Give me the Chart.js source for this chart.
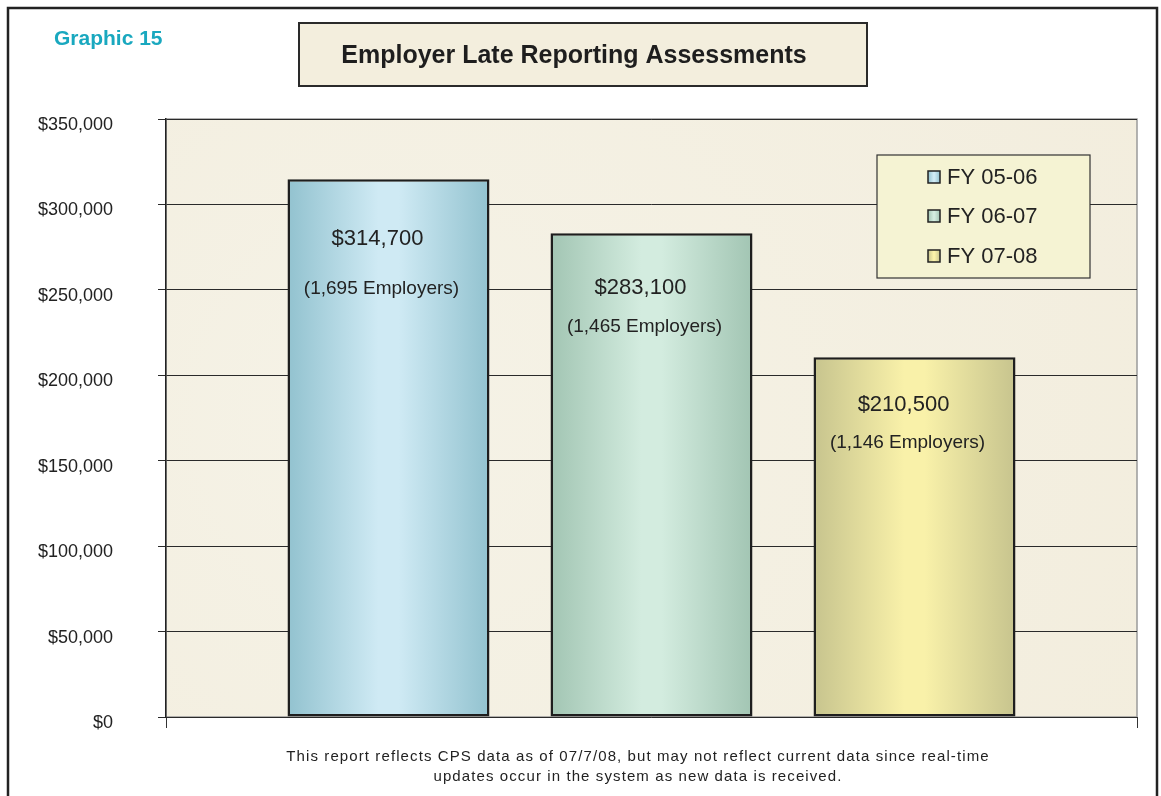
<!DOCTYPE html>
<html>
<head>
<meta charset="utf-8">
<script src="https://cdn.jsdelivr.net/npm/chart.js@4.4.0/dist/chart.umd.min.js"></script>
<style>
  html, body { margin: 0; padding: 0; background: #fff; }
  #wrap { width: 1161px; height: 796px; position: relative; }
</style>
</head>
<body>
<div id="wrap"><canvas id="lateGraph" width="1161" height="796"></canvas></div>
<script>
// data
const fiscalYears = ['FY 05-06', 'FY 06-07', 'FY 07-08'];
const assessments = [314700, 283100, 210500];
const employers = [1695, 1465, 1146];

// bar colours: edge / centre of the horizontal shading
const edgeColors = ['#92c2cf', '#a2c5b3', '#c7c48e'];
const midColors = ['#cfeaf4', '#d3ecdf', '#f9f1a9'];
// where the two labels sit below each bar top (px)
const valueOffsets = [60, 55, 48];
const countOffsets = [109, 93, 85];

const FONT = '"Liberation Sans", Arial, sans-serif';

function money(v) {
    return '$' + v.toLocaleString('en-US');
}

function shade(c, x0, x1, i) {
    const g = c.createLinearGradient(x0, 0, x1, 0);
    g.addColorStop(0, edgeColors[i]);
    g.addColorStop(0.45, midColors[i]);
    g.addColorStop(0.55, midColors[i]);
    g.addColorStop(1, edgeColors[i]);
    return g;
}

const frame = {
    id: 'frame',
    beforeDraw(chart) {
        const c = chart.ctx;
        const a = chart.chartArea;
        c.save();
        // plot background
        const bg = c.createRadialGradient(a.left + 200, a.top + 300, 50, a.left + 400, a.top + 300, 900);
        bg.addColorStop(0, '#f5f2e6');
        bg.addColorStop(1, '#f2ecdb');
        c.fillStyle = bg;
        c.fillRect(a.left, a.top, a.right - a.left, a.bottom - a.top);
        c.strokeStyle = '#9a9a9a';
        c.lineWidth = 1.5;
        c.strokeRect(a.left, a.top, a.right - a.left, a.bottom - a.top);

        // outer frame
        c.strokeStyle = '#222';
        c.lineWidth = 2.5;
        c.beginPath();
        c.moveTo(8, 820);
        c.lineTo(8, 8);
        c.lineTo(1157, 8);
        c.lineTo(1157, 820);
        c.stroke();

        // graphic number
        c.fillStyle = '#19a8bf';
        c.font = 'bold 21px ' + FONT;
        c.textBaseline = 'middle';
        c.fillText('Graphic 15', 54, 39);

        // title box
        c.fillStyle = '#f3eedd';
        c.fillRect(299, 23, 568, 63);
        c.strokeStyle = '#2a2a2a';
        c.lineWidth = 2;
        c.strokeRect(299, 23, 568, 63);
        c.fillStyle = '#1e1e1e';
        c.font = 'bold 25px ' + FONT;
        c.textAlign = 'center';
        c.fillText('Employer Late Reporting Assessments', 574, 56);

        // footnote
        c.fillStyle = '#222';
        c.font = '15px ' + FONT;
        c.letterSpacing = '1.1px';
        c.fillText('This report reflects CPS data as of 07/7/08, but may not reflect current data since real-time', 638, 757);
        c.fillText('updates occur in the system as new data is received.', 638, 777);
        c.letterSpacing = '0px';
        c.restore();
    },
    beforeDatasetsDraw(chart) {
        // horizontal shading across each bar
        chart.data.datasets.forEach((ds, i) => {
            chart.getDatasetMeta(i).data.forEach((el) => {
                el.options.backgroundColor = shade(chart.ctx, el.x - el.width / 2, el.x + el.width / 2, i);
            });
        });
    },
    afterDatasetsDraw(chart) {
        const c = chart.ctx;
        c.save();
        c.fillStyle = '#222';
        c.textAlign = 'center';
        c.textBaseline = 'middle';
        chart.data.datasets.forEach((ds, i) => {
            const el = chart.getDatasetMeta(i).data[0];
            c.font = '22px ' + FONT;
            c.fillText(money(assessments[i]), el.x - 11, el.y + valueOffsets[i]);
            c.font = '19px ' + FONT;
            c.fillText('(' + employers[i].toLocaleString('en-US') + ' Employers)', el.x - 7, el.y + countOffsets[i]);
        });

        // legend box
        const lx = 877, ly = 155, lw = 213, lh = 123;
        c.fillStyle = '#f5f3d3';
        c.fillRect(lx, ly, lw, lh);
        c.strokeStyle = '#333';
        c.lineWidth = 1.2;
        c.strokeRect(lx, ly, lw, lh);
        const rows = [178, 217, 257];
        fiscalYears.forEach((name, i) => {
            c.fillStyle = shade(c, 928, 940, i);
            c.fillRect(928, rows[i] - 7, 12, 12);
            c.strokeStyle = '#222';
            c.lineWidth = 1.5;
            c.strokeRect(928, rows[i] - 7, 12, 12);
            c.fillStyle = '#222';
            c.font = '22px ' + FONT;
            c.textAlign = 'left';
            c.fillText(name, 947, rows[i]);
        });
        c.restore();
    }
};

const ctx = document.getElementById('lateGraph').getContext('2d');

new Chart(ctx, {
    type: 'bar',
    data: {
        labels: [''],
        datasets: fiscalYears.map((name, i) => ({
            label: name,
            data: [assessments[i]],
            backgroundColor: edgeColors[i],
            borderColor: '#1e1e1e',
            borderWidth: 2.5,
            borderSkipped: false,
            barPercentage: 0.768,
            categoryPercentage: 0.8126
        }))
    },
    options: {
        responsive: false,
        animation: false,
        layout: {
            padding: { left: 0, top: 119, right: 24, bottom: 68 }
        },
        plugins: {
            legend: { display: false },
            tooltip: { enabled: false }
        },
        scales: {
            x: {
                afterFit: (s) => { s.height = 11; },
                grid: { drawOnChartArea: false, tickLength: 11, color: '#333', lineWidth: 1 },
                border: { display: false },
                ticks: { display: false }
            },
            y: {
                min: 0,
                max: 350000,
                afterFit: (s) => { s.width = 166; },
                ticks: {
                    stepSize: 50000,
                    padding: 45,
                    labelOffset: 6,
                    color: '#222',
                    font: { family: FONT, size: 18 },
                    callback: (v) => money(v)
                },
                grid: { color: '#2a2a2a', lineWidth: 1, tickLength: 8 },
                border: { color: '#222', width: 1.5 }
            }
        }
    },
    plugins: [frame]
});
</script>
</body>
</html>
